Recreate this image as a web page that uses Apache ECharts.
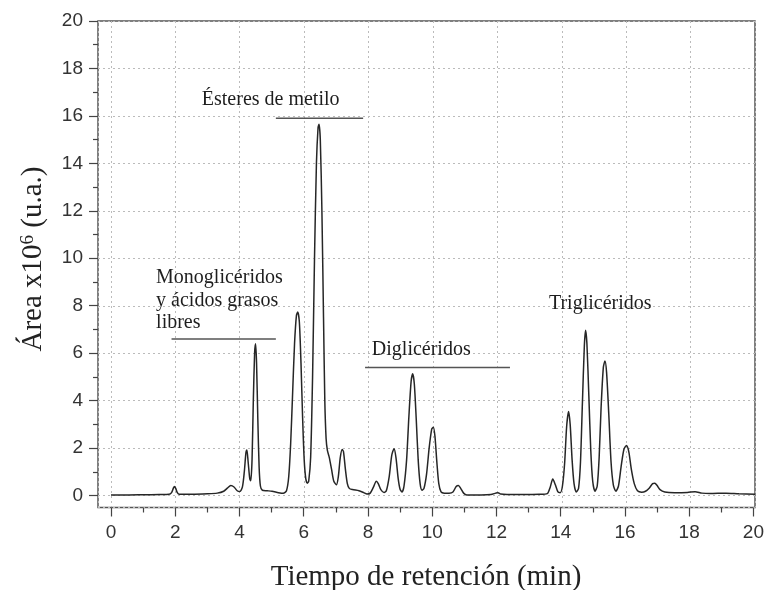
<!DOCTYPE html>
<html>
<head>
<meta charset="utf-8">
<script src="https://cdn.jsdelivr.net/npm/echarts@6/dist/echarts.min.js"></script>
<style>
html,body{margin:0;padding:0;background:#fff;}
#chart{width:767px;height:590px;}
</style>
</head>
<body>
<div id="chart"></div>
<script>
// ---- data ----
const retentionTime = [0,0.5,1.0,1.5,1.8,1.88,1.94,1.97,2.01,2.06,2.12,2.5,3.0,3.3,3.5,3.62,3.72,3.82,3.92,4.0,4.08,4.14,4.19,4.22,4.26,4.31,4.34,4.38,4.42,4.46,4.49,4.52,4.56,4.6,4.64,4.7,4.85,5.0,5.2,5.35,5.45,5.52,5.58,5.64,5.7,5.76,5.8,5.85,5.9,5.95,6.0,6.05,6.1,6.14,6.2,6.26,6.32,6.38,6.43,6.46,6.5,6.55,6.6,6.64,6.68,6.72,6.78,6.85,6.92,7.0,7.06,7.12,7.18,7.22,7.28,7.34,7.4,7.5,7.7,7.85,7.95,8.05,8.15,8.24,8.3,8.38,8.48,8.55,8.64,8.72,8.79,8.85,8.92,8.98,9.04,9.1,9.18,9.25,9.32,9.37,9.42,9.48,9.54,9.6,9.66,9.72,9.8,9.88,9.96,10.01,10.06,10.12,10.18,10.25,10.35,10.5,10.62,10.72,10.79,10.86,10.95,11.05,11.5,11.8,11.95,12.02,12.1,12.3,12.8,13.3,13.55,13.64,13.72,13.8,13.88,13.95,14.02,14.09,14.15,14.21,14.26,14.32,14.38,14.45,14.52,14.58,14.64,14.7,14.74,14.78,14.84,14.9,14.96,15.03,15.1,15.16,15.22,15.29,15.34,15.39,15.46,15.53,15.6,15.68,15.76,15.84,15.93,16.01,16.08,16.16,16.25,16.35,16.48,16.6,16.72,16.82,16.89,16.96,17.05,17.2,17.5,17.9,18.14,18.35,18.6,19.1,19.5,20];
const areaSignal = [0.02,0.02,0.03,0.04,0.05,0.12,0.32,0.38,0.3,0.12,0.05,0.05,0.07,0.1,0.18,0.32,0.42,0.36,0.2,0.17,0.35,1.0,1.8,1.92,1.4,0.7,0.62,1.5,4.0,6.0,6.4,5.6,3.2,1.2,0.4,0.22,0.2,0.18,0.12,0.09,0.2,0.8,2.2,4.3,6.4,7.6,7.73,7.3,5.6,3.3,1.5,0.7,0.52,0.6,1.6,5.0,10.0,14.0,15.5,15.65,15.0,12.0,7.5,4.0,2.4,1.9,1.6,1.1,0.6,0.45,0.8,1.6,1.94,1.85,1.1,0.5,0.3,0.25,0.2,0.12,0.06,0.1,0.35,0.6,0.5,0.25,0.13,0.2,0.8,1.7,1.97,1.6,0.7,0.25,0.15,0.4,1.5,3.3,4.8,5.13,4.7,3.2,1.5,0.5,0.22,0.3,0.9,2.0,2.8,2.88,2.5,1.4,0.5,0.15,0.1,0.1,0.15,0.38,0.42,0.3,0.1,0.02,0.02,0.04,0.1,0.12,0.06,0.04,0.04,0.05,0.08,0.35,0.7,0.45,0.15,0.12,0.4,1.4,2.9,3.54,3.0,1.5,0.5,0.15,0.3,1.4,3.9,6.3,6.96,6.4,4.2,1.9,0.6,0.18,0.4,1.6,3.7,5.4,5.67,5.2,3.4,1.4,0.45,0.18,0.4,1.2,1.95,2.11,1.85,1.1,0.5,0.2,0.14,0.18,0.32,0.5,0.52,0.42,0.25,0.15,0.12,0.13,0.16,0.1,0.08,0.1,0.07,0.05];

const xRange = [0, 20];
const yRange = [0, 20];
const tickStep = 2;

const xTitle = 'Tiempo de retención (min)';
const yTitleMain = 'Área x10';
const yTitleSup = '6';
const yTitleTail = ' (u.a.)';

// annotation texts, anchored in data coordinates
const annotations = [
  {lines: ['Ésteres de metilo'], at: [2.82, 16.67]},
  {lines: ['Monoglicéridos', 'y ácidos grasos', 'libres'], at: [1.40, 9.17]},
  {lines: ['Diglicéridos'], at: [8.10, 6.13]},
  {lines: ['Triglicéridos'], at: [13.60, 8.07]}
];
const bracketLines = [
  {from: [5.12, 15.9], to: [7.83, 15.9]},
  {from: [1.88, 6.6], to: [5.12, 6.6]},
  {from: [7.89, 5.4], to: [12.39, 5.4]}
];

// ---- chart ----
const chart = echarts.init(document.getElementById('chart'), null, {renderer: 'canvas'});
const seriesData = retentionTime.map((t, i) => [t, areaSignal[i]]);

const tickFont = {fontFamily: 'Liberation Sans', fontSize: 19, color: '#333'};
const serif = 'Liberation Serif';
const tickLine = {color: '#444', width: 1.2};
const hiddenAxis = {axisLine: {show: false, onZero: false}, axisTick: {show: false}, axisLabel: {show: false}, splitLine: {show: false}};

// layout (pixels): frame box, data area inside it
const frame = {left: 98, right: 12, top: 21, bottom: 82.5};
const plot = {left: 111, right: 12, top: 21, bottom: 94.5};

chart.setOption({
  animation: false,
  backgroundColor: '#fff',
  grid: [
    // 0: data area
    Object.assign({containLabel: false}, plot),
    // 1: frame with dotted grid
    Object.assign({containLabel: false, show: true, borderColor: '#555', borderWidth: 1.5, backgroundColor: 'transparent'}, frame),
    // 2: x ticks (spans data x-range, bottom at frame)
    {left: plot.left, right: plot.right, top: frame.top, bottom: frame.bottom},
    // 3: y ticks (spans data y-range, left at frame)
    {left: frame.left, right: frame.right, top: plot.top, bottom: plot.bottom}
  ],
  xAxis: [
    Object.assign({type: 'value', gridIndex: 0, min: xRange[0], max: xRange[1]}, hiddenAxis),
    {type: 'value', gridIndex: 1, min: -0.4, max: 20, splitNumber: 10,
     axisLine: {show: false, onZero: false}, axisTick: {show: false}, axisLabel: {show: false},
     splitLine: {show: true, lineStyle: {color: '#bbb', type: [2, 3], width: 1}}},
    {type: 'value', gridIndex: 2, min: xRange[0], max: xRange[1], interval: tickStep,
     axisLine: {show: false, onZero: false},
     axisTick: {show: true, inside: false, length: 9, lineStyle: tickLine},
     minorTick: {show: true, splitNumber: 2, length: 5, lineStyle: tickLine},
     axisLabel: Object.assign({margin: 16}, tickFont),
     splitLine: {show: false}},
    Object.assign({type: 'value', gridIndex: 3, min: -0.4, max: 20}, hiddenAxis)
  ],
  yAxis: [
    Object.assign({type: 'value', gridIndex: 0, min: yRange[0], max: yRange[1]}, hiddenAxis),
    {type: 'value', gridIndex: 1, min: -0.5, max: 20, splitNumber: 10,
     axisLine: {show: false, onZero: false}, axisTick: {show: false}, axisLabel: {show: false},
     splitLine: {show: true, lineStyle: {color: '#bbb', type: [2, 3], width: 1}}},
    Object.assign({type: 'value', gridIndex: 2, min: -0.5, max: 20}, hiddenAxis),
    {type: 'value', gridIndex: 3, min: yRange[0], max: yRange[1], interval: tickStep,
     axisLine: {show: false, onZero: false},
     axisTick: {show: true, inside: false, length: 9, lineStyle: tickLine},
     minorTick: {show: true, splitNumber: 2, length: 5, lineStyle: tickLine},
     axisLabel: Object.assign({margin: 15}, tickFont),
     splitLine: {show: false}}
  ],
  series: [{
    type: 'line',
    xAxisIndex: 0, yAxisIndex: 0,
    data: seriesData,
    showSymbol: false,
    smooth: 0.25,
    lineStyle: {color: '#262626', width: 1.5},
    z: 5
  }]
});

function px(pt) { return chart.convertToPixel({gridIndex: 0}, pt); }

const graphics = [];
annotations.forEach(a => {
  const p = px(a.at);
  a.lines.forEach((line, k) => {
    graphics.push({type: 'text', x: p[0], y: p[1] + k * 22.6, z: 10,
      style: {text: line, fontFamily: serif, fontSize: 20, fill: '#1e1e1e', align: 'left', verticalAlign: 'middle'}});
  });
});
bracketLines.forEach(b => {
  const p1 = px(b.from), p2 = px(b.to);
  graphics.push({type: 'line', z: 10, shape: {x1: p1[0], y1: p1[1], x2: p2[0], y2: p2[1]},
    style: {stroke: '#555', lineWidth: 1.5}});
});
// axis titles
graphics.push({type: 'text', x: 426, y: 577, z: 10,
  style: {text: xTitle, fontFamily: serif, fontSize: 29, fill: '#222', align: 'center', verticalAlign: 'middle'}});
graphics.push({type: 'text', x: 33, y: 259, rotation: Math.PI / 2, z: 10,
  style: {text: yTitleMain + '{sup|' + yTitleSup + '}' + yTitleTail, fontFamily: serif, fontSize: 29, fill: '#222',
    align: 'center', verticalAlign: 'middle',
    rich: {sup: {fontFamily: serif, fontSize: 19, fill: '#222', verticalAlign: 'top'}}}});

chart.setOption({graphic: graphics});
</script>
</body>
</html>
